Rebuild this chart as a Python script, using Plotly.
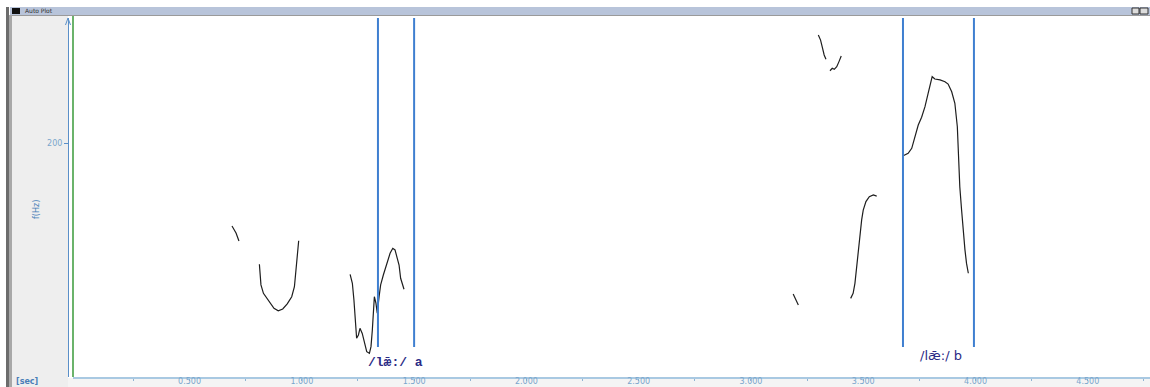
import plotly.graph_objects as go

# ---- data: pitch track segments (time in s, F0 in Hz) ----
seg1_t = [0.689, 0.707, 0.720]
seg1_f = [154.1, 150.2, 145.8]

seg2_t = [0.811, 0.818, 0.829, 0.844, 0.858, 0.876, 0.895, 0.915, 0.935, 0.955, 0.967, 0.974, 0.980, 0.986]
seg2_f = [132.8, 121.3, 116.6, 113.8, 111.1, 108.3, 106.9, 107.9, 110.7, 114.7, 120.3, 129.6, 140.8, 145.9]

seg3_t = [1.215, 1.225, 1.232, 1.240, 1.244, 1.252, 1.259, 1.269, 1.278, 1.289, 1.301, 1.308, 1.314,
          1.318, 1.323, 1.330, 1.336, 1.344, 1.351, 1.363, 1.378, 1.393, 1.405, 1.415, 1.425, 1.433,
          1.440, 1.449, 1.455]
seg3_f = [127.2, 122.2, 112.9, 99.9, 91.6, 93.4, 97.1, 94.3, 88.8, 84.1, 83.2, 86.9, 96.2,
          105.5, 114.7, 111.1, 105.5, 114.7, 121.3, 126.8, 132.4, 138.9, 141.7, 140.8, 136.1, 132.4,
          125.0, 121.3, 118.9]

seg4_t = [3.300, 3.310, 3.319, 3.326, 3.334]
seg4_f = [260.5, 257.7, 253.1, 249.4, 247.0]

seg5_t = [3.352, 3.362, 3.371, 3.382, 3.392, 3.402]
seg5_f = [240.6, 242.0, 241.4, 242.9, 245.7, 248.8]

seg6_t = [3.188, 3.211]
seg6_f = [116.2, 110.1]

seg7_t = [3.444, 3.455, 3.463, 3.471, 3.478, 3.485, 3.493, 3.500, 3.512, 3.527, 3.545, 3.560]
seg7_f = [113.8, 116.6, 122.2, 131.4, 142.6, 150.1, 157.5, 163.0, 167.7, 170.4, 171.4, 170.8]

seg8_t = [3.678, 3.700, 3.716, 3.730, 3.745, 3.760, 3.775, 3.789, 3.797, 3.807, 3.819, 3.842,
          3.864, 3.878, 3.894, 3.908, 3.919, 3.925, 3.930, 3.938, 3.945, 3.953, 3.960, 3.968]
seg8_f = [193.3, 194.6, 197.4, 203.0, 210.4, 214.7, 220.6, 228.0, 231.7, 237.3, 236.0, 235.5,
          234.5, 233.2, 228.9, 222.5, 209.4, 190.9, 176.0, 163.0, 150.1, 140.8, 133.3, 127.8]

# interval boundaries (s) and their labels
boundaries = [1.339, 1.500, 3.677, 3.993]
interval_labels = ["/lǣ:/ a", "/lǣ:/ b"]
interval_label_t = [1.286, 3.744]

# axis ticks
x_tickvals = [0.25 * i for i in range(1, 20)]
x_ticktext = [f"{v:.3f}" if i % 2 == 1 else "" for i, v in enumerate(x_tickvals)]
y_tickvals = [200]
y_ticktext = ["200"]

W, H = 1150, 387


def px(x):
    return x / W


def py(y):
    return 1 - y / H


segments = [(seg1_t, seg1_f), (seg2_t, seg2_f), (seg3_t, seg3_f), (seg4_t, seg4_f),
            (seg5_t, seg5_f), (seg6_t, seg6_f), (seg7_t, seg7_f), (seg8_t, seg8_f)]

xs, ys = [], []
for t, f in segments:
    xs += list(t) + [None]
    ys += list(f) + [None]

fig = go.Figure()
fig.add_trace(go.Scatter(x=xs, y=ys, mode="lines", connectgaps=False,
                         line=dict(color="#1e1e1e", width=1.2), hoverinfo="skip"))

shapes = []
# window chrome
shapes.append(dict(type="rect", xref="paper", yref="paper", x0=px(10), x1=px(1150), y0=py(15), y1=py(7),
                   fillcolor="#b8c4da", line=dict(width=0), layer="below"))
shapes.append(dict(type="rect", xref="paper", yref="paper", x0=px(12), x1=px(20), y0=py(14), y1=py(8),
                   fillcolor="#111111", line=dict(width=0)))
shapes.append(dict(type="rect", xref="paper", yref="paper", x0=px(1132), x1=px(1139), y0=py(14), y1=py(8),
                   fillcolor="#dcdcdc", line=dict(color="#333333", width=1)))
shapes.append(dict(type="rect", xref="paper", yref="paper", x0=px(1140), x1=px(1148), y0=py(14), y1=py(8),
                   fillcolor="#dcdcdc", line=dict(color="#333333", width=1)))
shapes.append(dict(type="rect", xref="paper", yref="paper", x0=px(6), x1=px(9), y0=0, y1=py(7),
                   fillcolor="#6c6c6c", line=dict(width=0), layer="below"))
shapes.append(dict(type="rect", xref="paper", yref="paper", x0=px(9), x1=px(12), y0=0, y1=py(15),
                   fillcolor="#a8a8a8", line=dict(width=0), layer="below"))
shapes.append(dict(type="rect", xref="paper", yref="paper", x0=px(12), x1=px(68), y0=0, y1=py(15),
                   fillcolor="#eeeeee", line=dict(width=0), layer="below"))
shapes.append(dict(type="rect", xref="paper", yref="paper", x0=px(68), x1=px(1150), y0=0, y1=py(378),
                   fillcolor="#f4f4f4", line=dict(width=0), layer="below"))
shapes.append(dict(type="line", xref="paper", yref="paper", x0=px(12), x1=px(1150), y0=py(15.5), y1=py(15.5),
                   line=dict(color="#9a9a9a", width=1)))
# green start marker and y-axis arrow head
shapes.append(dict(type="line", xref="paper", yref="paper", x0=px(73), x1=px(73), y0=py(377), y1=py(16),
                   line=dict(color="#3a9a3a", width=1.5)))
shapes.append(dict(type="path", xref="paper", yref="paper",
                   path=f"M {px(65.5)},{py(25)} L {px(68)},{py(18)} L {px(70.5)},{py(25)}",
                   line=dict(color="#5a8fc8", width=1)))
# interval boundary lines
for b in boundaries:
    shapes.append(dict(type="line", xref="x", yref="paper", x0=b, x1=b, y0=py(347), y1=py(18),
                       line=dict(color="#3f7fd0", width=2)))

annotations = [
    dict(text="Auto Plot", x=px(23), y=py(11), xref="paper", yref="paper", xanchor="left", yanchor="middle",
         showarrow=False, font=dict(size=6, color="#333333", family="DejaVu Sans")),
    dict(text="<b>[sec]</b>", x=px(27), y=py(381.5), xref="paper", yref="paper", xanchor="center",
         yanchor="middle", showarrow=False, font=dict(size=8, color="#4a7fb8", family="DejaVu Sans")),
    dict(text="f(Hz)", x=px(36), y=py(210), xref="paper", yref="paper", xanchor="center", yanchor="middle",
         textangle=-90, showarrow=False, font=dict(size=8, color="#4a7fb8", family="DejaVu Sans")),
    dict(text=interval_labels[0], x=interval_label_t[0], y=py(362), xref="x", yref="paper", xanchor="left",
         yanchor="middle", showarrow=False,
         font=dict(size=13, color="#2b2b86", family="Liberation Mono", weight="bold")),
    dict(text=interval_labels[1], x=interval_label_t[1], y=py(355), xref="x", yref="paper", xanchor="left",
         yanchor="middle", showarrow=False,
         font=dict(size=13, color="#2b2b86", family="DejaVu Sans")),
]

fig.update_layout(
    width=W, height=H, margin=dict(l=0, r=0, t=0, b=0),
    paper_bgcolor="white", plot_bgcolor="white", showlegend=False,
    template="none",
    shapes=shapes, annotations=annotations,
    xaxis=dict(domain=[px(73), 1], range=[-0.019, 4.777], showgrid=False, zeroline=False,
               showline=True, linecolor="#a9c9e2", linewidth=2, ticks="outside", ticklen=2,
               tickcolor="#8fb4d4", tickvals=x_tickvals, ticktext=x_ticktext, automargin=False,
               ticklabelstandoff=-7,
               tickfont=dict(size=8, color="#7aa6cc", family="DejaVu Sans")),
    yaxis=dict(domain=[py(377), py(18)], range=[70, 270], anchor="free", position=px(68),
               showgrid=False, zeroline=False, showline=True, linecolor="#5a8fc8", linewidth=1,
               ticks="outside", ticklen=4, tickcolor="#5a8fc8", tickvals=y_tickvals,
               ticktext=y_ticktext, automargin=False,
               tickfont=dict(size=8, color="#7aa6cc", family="DejaVu Sans")),
)

fig.write_html("out.html")
